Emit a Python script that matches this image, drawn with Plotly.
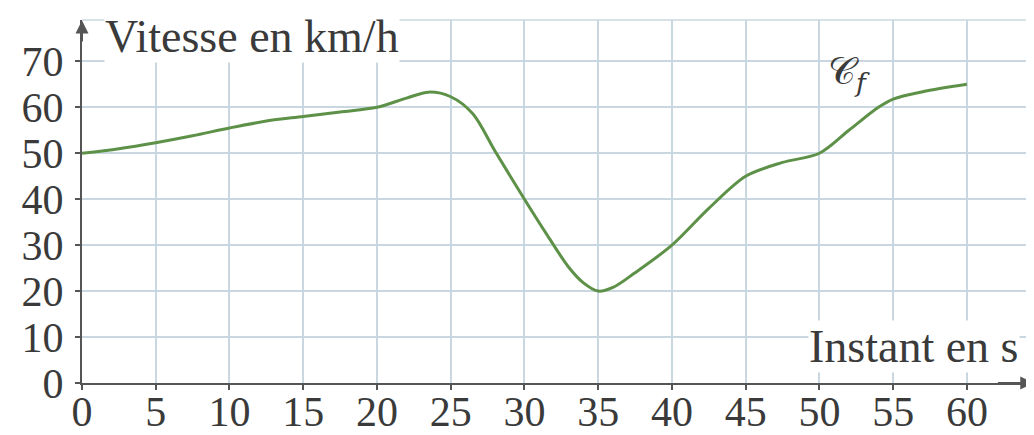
import plotly.graph_objects as go

# Data
t_s = [0, 2.5, 5, 7.5, 10, 12.5, 15, 17.5, 20, 22, 23.5, 25, 26.5, 28, 30,
       31.5, 33, 34, 35, 36, 37.5, 40, 42.5, 45, 47.5, 50, 52, 54, 55, 57, 60]
v_kmh = [50, 51, 52.3, 53.8, 55.5, 57, 58, 59, 60, 62, 63.3, 62.3, 58.6, 50.5, 40,
         32.4, 25.2, 21.8, 20, 20.8, 24, 30, 38, 45, 48, 50, 55, 60, 61.8, 63.4, 65]
x_ticks = list(range(0, 61, 5))
y_ticks = list(range(0, 71, 10))
y_label = "Vitesse en km/h"
x_label = "Instant en s"
curve_name = "𝒞<sub><i>f</i></sub>"

FONT = "Liberation Serif"
TXT = "#3a3a3a"
AX = "#555555"
GRID = "#c9d8e0"

fig = go.Figure()
fig.add_trace(go.Scatter(
    x=t_s, y=v_kmh, mode="lines",
    line=dict(color="#5e9148", width=3, shape="spline", smoothing=0.9),
    hoverinfo="skip", showlegend=False,
))

# page body has an 8px margin: figure is sized/offset to compensate
fig.update_layout(
    width=1026, height=427,
    margin=dict(l=74, r=0, t=12, b=52, autoexpand=False),
    paper_bgcolor="white", plot_bgcolor="white",
    font=dict(family=FONT, color=TXT, size=40),
    showlegend=False,
)
fig.update_xaxes(
    range=[0, 64.55], tickvals=x_ticks, ticktext=[str(v) for v in x_ticks],
    showgrid=True, gridcolor=GRID, gridwidth=1.5,
    showline=True, linecolor=AX, linewidth=2, zeroline=False, automargin=False,
    ticks="outside", ticklen=5, tickcolor=AX, tickwidth=1.5,
    ticklabelstandoff=-14,
    tickfont=dict(family=FONT, size=42, color=TXT),
)
fig.update_yaxes(
    range=[0, 79], tickvals=y_ticks, ticktext=[str(v) for v in y_ticks],
    showgrid=True, gridcolor=GRID, gridwidth=1.5,
    showline=True, linecolor=AX, linewidth=2, zeroline=False, automargin=False,
    ticks="outside", ticklen=5, tickcolor=AX, tickwidth=1.5,
    ticklabelstandoff=3,
    tickfont=dict(family=FONT, size=42, color=TXT),
)

# top border line
fig.add_shape(type="line", xref="paper", yref="paper", x0=0, x1=1, y0=1, y1=1,
              line=dict(color=GRID, width=1.5))

# axis labels (with white background hiding the grid)
fig.add_annotation(x=1.5, y=75.4, xref="x", yref="y", text=y_label,
                   showarrow=False, xanchor="left", yanchor="middle",
                   font=dict(family=FONT, size=46, color=TXT), bgcolor="white",
                   borderpad=0)
fig.add_annotation(x=63.6, y=8.0, xref="x", yref="y", text=x_label,
                   showarrow=False, xanchor="right", yanchor="middle",
                   font=dict(family=FONT, size=46, color=TXT), bgcolor="white",
                   borderpad=0)
fig.add_annotation(x=52.0, y=67.3, xref="x", yref="y", text=curve_name,
                   showarrow=False, xanchor="center", yanchor="middle",
                   font=dict(family="DejaVu Serif", size=38, color=TXT))

# axis arrows
fig.add_annotation(x=64.5, y=0, ax=62, ay=0, xref="x", yref="y", axref="x", ayref="y",
                   text="", showarrow=True, arrowhead=2, arrowsize=1.3, arrowwidth=2,
                   arrowcolor=AX)
fig.add_annotation(x=0, y=78.9, ax=0, ay=74, xref="x", yref="y", axref="x", ayref="y",
                   text="", showarrow=True, arrowhead=2, arrowsize=1.3, arrowwidth=2,
                   arrowcolor=AX)

fig.write_html("out.html")
